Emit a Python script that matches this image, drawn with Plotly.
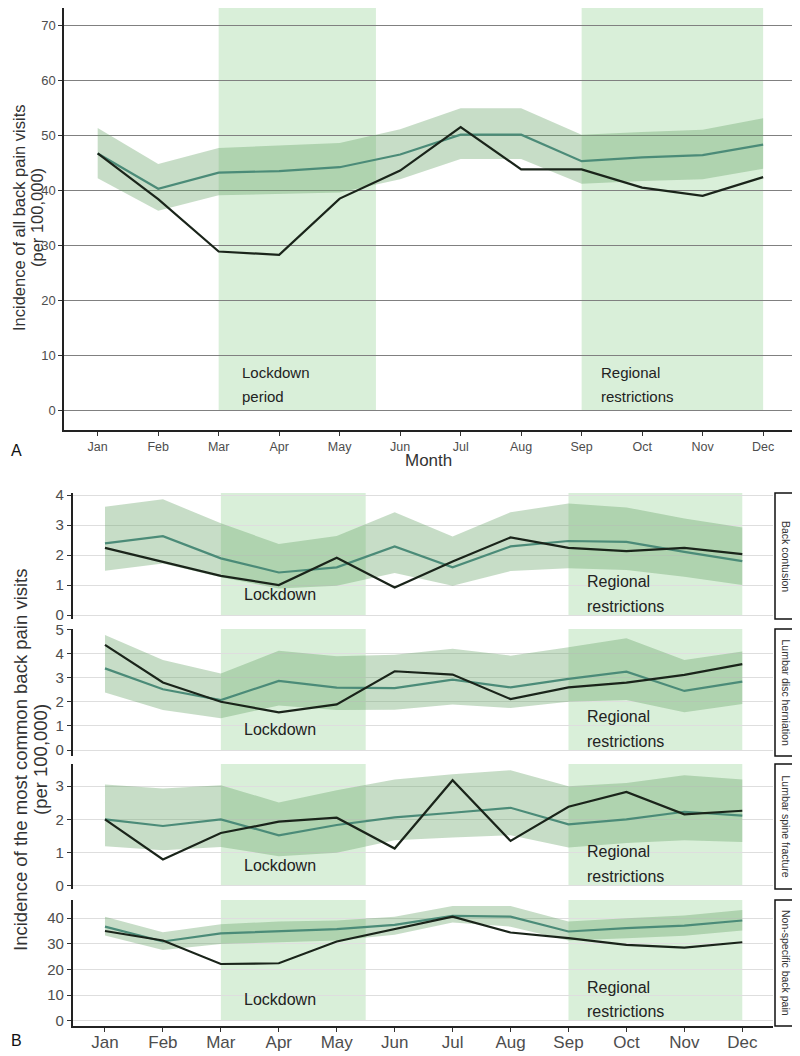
import plotly.graph_objects as go

months = ["Jan", "Feb", "Mar", "Apr", "May", "Jun", "Jul", "Aug", "Sep", "Oct", "Nov", "Dec"]
month_num = list(range(1, 13))

# Panel A: all back pain visits
all_observed = [46.7, 38.4, 28.9, 28.3, 38.5, 43.6, 51.5, 43.8, 43.8, 40.5, 39.0, 42.4]
all_expected = [46.7, 40.3, 43.2, 43.5, 44.2, 46.5, 50.1, 50.1, 45.3, 46.0, 46.4, 48.3]
all_upper = [51.3, 44.8, 47.7, 48.1, 48.6, 51.1, 54.9, 54.9, 50.1, 50.6, 51.0, 53.1]
all_lower = [42.2, 36.3, 39.1, 39.3, 39.6, 42.0, 45.7, 45.7, 41.2, 41.7, 42.0, 43.9]

# Panel B facets
facet_names = ["Back contusion", "Lumbar disc herniation", "Lumbar spine fracture", "Non-specific back pain"]
contusion_observed = [2.24, 1.78, 1.31, 1.00, 1.91, 0.92, 1.79, 2.59, 2.24, 2.13, 2.24, 2.03]
contusion_expected = [2.39, 2.63, 1.89, 1.42, 1.59, 2.29, 1.59, 2.29, 2.47, 2.44, 2.11, 1.80]
contusion_upper = [3.61, 3.86, 3.06, 2.37, 2.64, 3.43, 2.62, 3.43, 3.72, 3.59, 3.22, 2.92]
contusion_lower = [1.48, 1.72, 1.26, 0.89, 0.98, 1.40, 0.98, 1.47, 1.56, 1.50, 1.28, 1.00]

disc_observed = [4.38, 2.81, 2.01, 1.57, 1.90, 3.28, 3.14, 2.12, 2.61, 2.81, 3.13, 3.58]
disc_expected = [3.40, 2.53, 2.08, 2.88, 2.60, 2.58, 2.93, 2.61, 2.96, 3.26, 2.46, 2.85]
disc_upper = [4.79, 3.75, 3.19, 4.13, 3.90, 3.97, 4.22, 3.93, 4.28, 4.65, 3.75, 4.10]
disc_lower = [2.39, 1.67, 1.32, 1.85, 1.67, 1.68, 1.89, 1.75, 2.01, 2.08, 1.57, 1.92]

fracture_observed = [2.00, 0.79, 1.59, 1.93, 2.05, 1.12, 3.18, 1.35, 2.38, 2.83, 2.15, 2.26]
fracture_expected = [2.00, 1.80, 2.00, 1.52, 1.83, 2.06, 2.20, 2.35, 1.85, 2.00, 2.23, 2.11]
fracture_upper = [3.05, 2.93, 3.03, 2.51, 2.88, 3.20, 3.36, 3.48, 3.00, 3.10, 3.33, 3.20]
fracture_lower = [1.19, 1.07, 1.17, 0.89, 0.99, 1.37, 1.45, 1.52, 1.15, 1.29, 1.37, 1.32]

nonspec_observed = [35.0, 31.3, 22.1, 22.4, 30.9, 35.7, 40.6, 34.4, 32.2, 29.6, 28.5, 30.6]
nonspec_expected = [36.7, 30.9, 34.1, 34.8, 35.7, 37.4, 40.9, 40.6, 34.8, 36.1, 37.1, 39.1]
nonspec_upper = [40.6, 34.5, 37.6, 38.7, 39.1, 40.6, 44.8, 44.8, 38.7, 40.0, 41.0, 43.2]
nonspec_lower = [33.2, 27.6, 29.9, 30.5, 31.3, 33.5, 38.3, 36.7, 31.3, 32.2, 33.1, 35.2]

facet_tickvals = [[0, 1, 2, 3, 4], [0, 1, 2, 3, 4, 5], [0, 1, 2, 3], [0, 10, 20, 30, 40]]
facet_ranges = [[-0.13, 4.07], [-0.25, 5.04], [-0.1, 3.67], [-2.1, 47.1]]

regional_period = [9, 12]

FONT = "Liberation Sans, Arial, sans-serif"
GREEN_LINE = "#4b8b78"
BLACK_LINE = "#1a241a"
BAND = "rgba(100,160,100,0.36)"
SHADE = "rgba(160,215,160,0.40)"
TICK_COL = "#4d4d4d"

# page offset (body margin) compensation: figure pixels = reference pixels - OFF
OFF = 8
FW, FH = 800 - OFF, 1056 - OFF


def px(p):
    return min(max((p - OFF) / FW, 0.0), 1.0)


def py(p):
    return min(max(1 - (p - OFF) / FH, 0.0), 1.0)


fig = go.Figure()


def add_series(xa, ya, obs, exp, up, lo):
    fig.add_trace(go.Scatter(x=month_num, y=up, mode="lines", line=dict(width=0),
                             xaxis=xa, yaxis=ya, showlegend=False, hoverinfo="skip"))
    fig.add_trace(go.Scatter(x=month_num, y=lo, mode="lines", line=dict(width=0),
                             fill="tonexty", fillcolor=BAND,
                             xaxis=xa, yaxis=ya, showlegend=False, hoverinfo="skip"))
    fig.add_trace(go.Scatter(x=month_num, y=exp, mode="lines", line=dict(color=GREEN_LINE, width=2.2),
                             xaxis=xa, yaxis=ya, showlegend=False))
    fig.add_trace(go.Scatter(x=month_num, y=obs, mode="lines", line=dict(color=BLACK_LINE, width=2.2),
                             xaxis=xa, yaxis=ya, showlegend=False))


# Panel A
add_series("x", "y", all_observed, all_expected, all_upper, all_lower)
top_range = [-3.5, 73.1]
for (x0, x1) in [[3, 5.6], regional_period]:
    fig.add_shape(type="rect", xref="x", yref="y", x0=x0, x1=x1, y0=0, y1=top_range[1],
                  fillcolor=SHADE, line=dict(width=0), layer="below")

for txt, xx, yy in [("Lockdown", 3.35, 6.9), ("period", 3.35, 2.6),
                    ("Regional", 9.29, 6.9), ("restrictions", 9.29, 2.6)]:
    fig.add_annotation(x=xx, y=yy, xref="x", yref="y", text=txt, showarrow=False,
                       xanchor="left", yanchor="middle", font=dict(size=15, color="#222", family=FONT))

# Panel B
facet_data = [
    (contusion_observed, contusion_expected, contusion_upper, contusion_lower),
    (disc_observed, disc_expected, disc_upper, disc_lower),
    (fracture_observed, fracture_expected, fracture_upper, fracture_lower),
    (nonspec_observed, nonspec_expected, nonspec_upper, nonspec_lower),
]
# reference-pixel extents of the facet panels (top, bottom)
facet_px = [(493, 619), (629, 756), (764, 889), (900, 1026)]
label_y = [(0.69, 1.11, 0.30), (0.86, 1.39, 0.35), (0.62, 1.02, 0.27), (8.4, 13.0, 3.5)]

for i, (obs, exp, up, lo) in enumerate(facet_data):
    n = i + 2
    xa, ya = "x%d" % n, "y%d" % n
    add_series(xa, ya, obs, exp, up, lo)
    rng = facet_ranges[i]
    for (x0, x1) in [[3, 5.5], regional_period]:
        fig.add_shape(type="rect", xref=xa, yref=ya, x0=x0, x1=x1, y0=0, y1=rng[1],
                      fillcolor=SHADE, line=dict(width=0), layer="below")
    ly, ry1, ry2 = label_y[i]
    for txt, xx, yy in [("Lockdown", 3.36, ly), ("Regional", 9.28, ry1), ("restrictions", 9.28, ry2)]:
        fig.add_annotation(x=xx, y=yy, xref=xa, yref=ya, text=txt, showarrow=False,
                           xanchor="left", yanchor="middle", font=dict(size=16, color="#222", family=FONT))
    top, bot = facet_px[i]
    dom = [py(bot), py(top)]
    fig.update_layout(**{
        "xaxis%d" % n: dict(domain=[px(72.7), px(773)], anchor=ya, range=[0.443, 12.53],
                            tickvals=month_num, ticktext=months,
                            showticklabels=(n == 5), showgrid=False, zeroline=False,
                            showline=(n == 5), linecolor="#222", linewidth=1.5,
                            ticks="outside" if n == 5 else "", ticklen=4, tickcolor="#333",
                            ticklabelstandoff=-4,
                            tickfont=dict(size=17, color=TICK_COL, family=FONT), automargin=False),
        "yaxis%d" % n: dict(domain=dom, anchor=xa, range=rng, tickvals=facet_tickvals[i],
                            showgrid=True, gridcolor="#dedede", gridwidth=1, zeroline=False,
                            showline=True, linecolor="#222", linewidth=1.5,
                            ticks="outside", ticklen=4, tickcolor="#333",
                            tickfont=dict(size=15, color=TICK_COL, family=FONT), automargin=False),
    })
    # strip
    fig.add_shape(type="rect", xref="paper", yref="paper", x0=px(775), x1=px(797),
                  y0=dom[0], y1=dom[1], fillcolor="white", line=dict(color="#111", width=1.5))
    fig.add_annotation(x=px(786), y=(dom[0] + dom[1]) / 2, xref="paper", yref="paper",
                       text=facet_names[i], textangle=90, showarrow=False,
                       xanchor="center", yanchor="middle",
                       font=dict(size=10.5, color="#333", family=FONT))

fig.update_layout(
    width=FW, height=FH,
    margin=dict(l=0, r=0, t=0, b=0, autoexpand=False),
    paper_bgcolor="white", plot_bgcolor="rgba(0,0,0,0)",
    showlegend=False,
    xaxis=dict(domain=[px(64), px(797)], anchor="y", range=[0.443, 12.56],
               tickvals=month_num, ticktext=months, showgrid=False, zeroline=False,
               showline=True, linecolor="#222", linewidth=1.5, ticks="outside", ticklen=4,
               tickcolor="#333", tickfont=dict(size=12.5, color=TICK_COL, family=FONT), automargin=False),
    yaxis=dict(domain=[py(430), py(8)], anchor="x", range=top_range,
               tickvals=[0, 10, 20, 30, 40, 50, 60, 70], showgrid=True, gridcolor="#808080",
               gridwidth=1.2, zeroline=False, showline=True, linecolor="#222", linewidth=1.5,
               ticks="outside", ticklen=4, tickcolor="#333",
               tickfont=dict(size=13, color=TICK_COL, family=FONT), automargin=False),
)

# Axis titles and panel letters
texts = [
    ("Month", 428, 460, 0, 17, "#333"),
    ("Incidence of all back pain visits", 19, 218, -90, 16.5, "#333"),
    ("(per 100,000)", 37, 218, -90, 16.5, "#333"),
    ("Incidence of the most common back pain visits", 20, 760, -90, 18.5, "#333"),
    ("(per 100,000)", 40, 760, -90, 18.5, "#333"),
    ("A", 16, 450, 0, 16, "#111"),
    ("B", 16, 1040, 0, 16, "#111"),
]
for txt, xx, yy, ang, sz, col in texts:
    fig.add_annotation(x=px(xx), y=py(yy), xref="paper", yref="paper", text=txt, textangle=ang,
                       xanchor="center", yanchor="middle", showarrow=False,
                       font=dict(size=sz, color=col, family=FONT))

fig.write_html("out.html")
